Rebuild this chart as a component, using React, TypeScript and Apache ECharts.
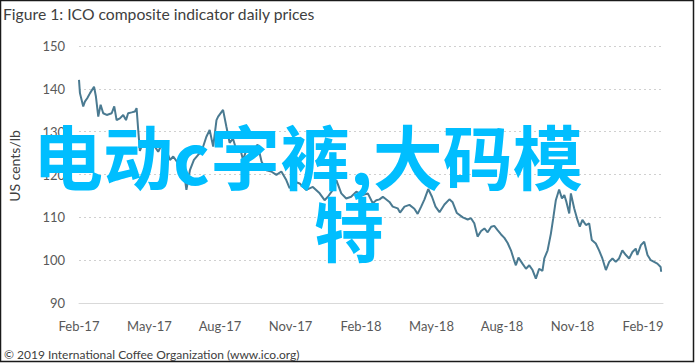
import React, { useEffect, useRef } from "react";
import * as echarts from "echarts";

// Month offsets from Feb-2017 (0 = Feb-17, 3 = May-17, ...)
const months: number[] = [
  0, 0.04, 0.18, 0.25, 0.35, 0.47, 0.64, 0.72, 0.82, 0.92, 1.03, 1.18, 1.39, 1.5, 1.6, 1.74, 1.88, 2.0,
  2.09, 2.24, 2.38, 2.45, 2.52, 2.59, 2.73, 2.94, 3.1, 3.23, 3.37, 3.51, 3.72, 3.87, 4.01, 4.22, 4.43,
  4.57, 4.72, 4.89, 5.07, 5.21, 5.42, 5.56, 5.71, 5.85, 5.92, 6.13, 6.27, 6.41, 6.55, 6.71, 6.84, 6.98,
  7.12, 7.35, 7.6, 7.77, 7.97, 8.18, 8.4, 8.61, 8.82, 8.96, 9.18, 9.39, 9.67, 9.95, 10.24, 10.45, 10.59,
  10.8, 10.95, 11.16, 11.37, 11.58, 11.8, 12.08, 12.29, 12.5, 12.65, 12.79, 12.93, 13.21, 13.35, 13.56,
  13.66, 13.85, 14.06, 14.27, 14.41, 14.56, 14.7, 14.86, 15.02, 15.17, 15.34, 15.55, 15.76, 15.9, 16.08,
  16.33, 16.54, 16.68, 16.82, 16.96, 17.11, 17.25, 17.39, 17.54, 17.67, 17.81, 17.96, 18.1, 18.24, 18.38,
  18.5, 18.59, 18.7, 18.87, 19.02, 19.16, 19.3, 19.44, 19.58, 19.72, 19.8, 19.94, 20.08, 20.18, 20.29,
  20.43, 20.55, 20.65, 20.74, 20.86, 20.93, 21.07, 21.21, 21.31, 21.42, 21.57, 21.71, 21.82, 21.99,
  22.13, 22.27, 22.42, 22.56, 22.7, 22.84, 22.98, 23.12, 23.27, 23.41, 23.55, 23.69, 23.76, 23.91, 24.05,
  24.19, 24.33, 24.47, 24.61, 24.75, 24.77,
];

// ICO composite indicator, US cents/lb
const prices: number[] = [
  142.1, 139, 135.9, 137, 137.8, 139, 140.5, 138.2, 133.5, 136.3, 134.3, 133.9, 134.3, 135.9, 132.7, 133.1, 133.9, 132.7,
  134.3, 134.5, 134.7, 135.5, 130.4, 125.5, 127.5, 126, 127, 126.5, 125.3, 126.9, 125.7, 123.4, 124.2, 122.6, 122.2,
  116.4, 121, 123.4, 124.6, 125.3, 128.8, 130.4, 126.5, 132.7, 133.5, 135.1, 131.2, 127.4, 128.4, 125.5, 126.5, 123.4,
  125.7, 125, 127, 123, 121, 120.7, 119.9, 120.7, 118.7, 116.8, 118.3, 117.9, 116.4, 117.1, 115.6, 114, 114.8,
  116.4, 118.7, 115.6, 114.4, 114.8, 116, 115.2, 115.6, 113.3, 114, 114.2, 114.8, 113.6, 112.5, 112.1,
  111.1, 112.5, 112.9, 112, 110.8, 112.5, 114.2, 116.6, 114.8, 112.5, 111.2, 113, 114.2, 113.5, 111,
  110, 109.5, 109.8, 108.6, 105.5, 106.8, 107.4, 106.5, 107.8, 108, 107, 106, 105.2, 104, 102.3,
  100.2, 98.8, 100.6, 99.2, 98, 98.8, 97.7, 95.7, 98, 97.5, 100.4, 102.3, 106.2, 109.8, 114,
  116.5, 114.4, 115.2, 113.6, 110.9, 115.6, 112.1, 109.4, 107.8, 109.4, 108.2, 108.6, 104.7, 103.9,
  102.3, 100.4, 97.7, 99.6, 100.4, 99.6, 100.4, 102.3, 101.2, 100.4, 101.9, 102.7, 101.2, 103.5, 104.3,
  101.2, 100, 99.6, 99.2, 98.4, 97.3,
];

const xTickLabels: string[] = [
  "Feb-17", "May-17", "Aug-17", "Nov-17", "Feb-18", "May-18", "Aug-18", "Nov-18", "Feb-19",
];

const FONT = "Lato, 'Open Sans', sans-serif";

export default function App() {
  const ref = useRef<HTMLDivElement>(null);

  useEffect(() => {
    if (!ref.current) return;
    const chart = echarts.init(ref.current, undefined, { renderer: "svg" });
    const data = months.map((m, i) => [m, prices[i]]);
    chart.setOption({
      animation: false,
      backgroundColor: "#ffffff",
      grid: { left: 79, right: 32, top: 46, bottom: 61, containLabel: false },
      xAxis: {
        type: "value",
        min: 0,
        max: 24.85,
        interval: 3,
        axisLine: { show: true, lineStyle: { color: "#d9d9d9", width: 1 } },
        axisTick: { show: false },
        splitLine: { show: false },
        axisLabel: {
          margin: 16,
          color: "#595959",
          fontSize: 13,
          fontFamily: FONT,
          showMaxLabel: false,
          formatter: (v: number) => {
            const r = Math.round(v);
            if (Math.abs(v - r) > 1e-6 || r % 3 !== 0) return "";
            return xTickLabels[r / 3] ?? "";
          },
        },
      },
      yAxis: {
        type: "value",
        min: 90,
        max: 150,
        interval: 10,
        axisLine: { show: false },
        axisTick: { show: false },
        splitLine: { show: true, lineStyle: { color: "#d0d0d0", type: [2, 3], width: 1 } },
        axisLabel: { margin: 14, color: "#595959", fontSize: 13, fontFamily: FONT },
      },
      series: [
        {
          type: "line",
          data,
          showSymbol: false,
          symbol: "none",
          lineStyle: { color: "#4A7A91", width: 2 },
          z: 2,
        },
      ],
      graphic: [
        {
          type: "rect",
          shape: { x: 0.5, y: 0.5, width: 693, height: 361 },
          style: { fill: "none", stroke: "#1a1a1a", lineWidth: 1.5 },
          silent: true,
        },
        {
          type: "text",
          left: 3,
          top: 6,
          style: {
            text: "Figure 1: ICO composite indicator daily prices",
            fill: "#404040",
            font: `15.7px ${FONT}`,
          },
        },
        {
          type: "text",
          x: 14,
          y: 166,
          rotation: Math.PI / 2,
          style: {
            text: "US cents/lb",
            fill: "#404040",
            font: `14px ${FONT}`,
            align: "center",
            verticalAlign: "middle",
          },
        },
        {
          type: "text",
          x: 4,
          y: 354,
          style: {
            text: "© 2019 International Coffee Organization (www.ico.org)",
            fill: "#404040",
            font: `12px ${FONT}`,
            verticalAlign: "middle",
          },
        },
        {
          type: "line",
          shape: { x1: 230, y1: 361, x2: 293, y2: 361 },
          style: { stroke: "#404040", lineWidth: 0.8 },
        },
        {
          type: "text",
          x: 33,
          y: 154,
          z: 100,
          style: {
            text: "电动c字裤,大码模",
            fill: "#00BEFF",
            font: `bold 70px 'Noto Sans CJK SC', sans-serif`,
            verticalAlign: "middle",
          },
        },
        {
          type: "text",
          x: 314,
          y: 226,
          z: 100,
          style: {
            text: "特",
            fill: "#00BEFF",
            font: `bold 70px 'Noto Sans CJK SC', sans-serif`,
            verticalAlign: "middle",
          },
        },
      ],
    });
    return () => chart.dispose();
  }, []);

  return <div ref={ref} style={{ width: 695, height: 364, position: "fixed", left: 0, top: 0 }} />;
}
